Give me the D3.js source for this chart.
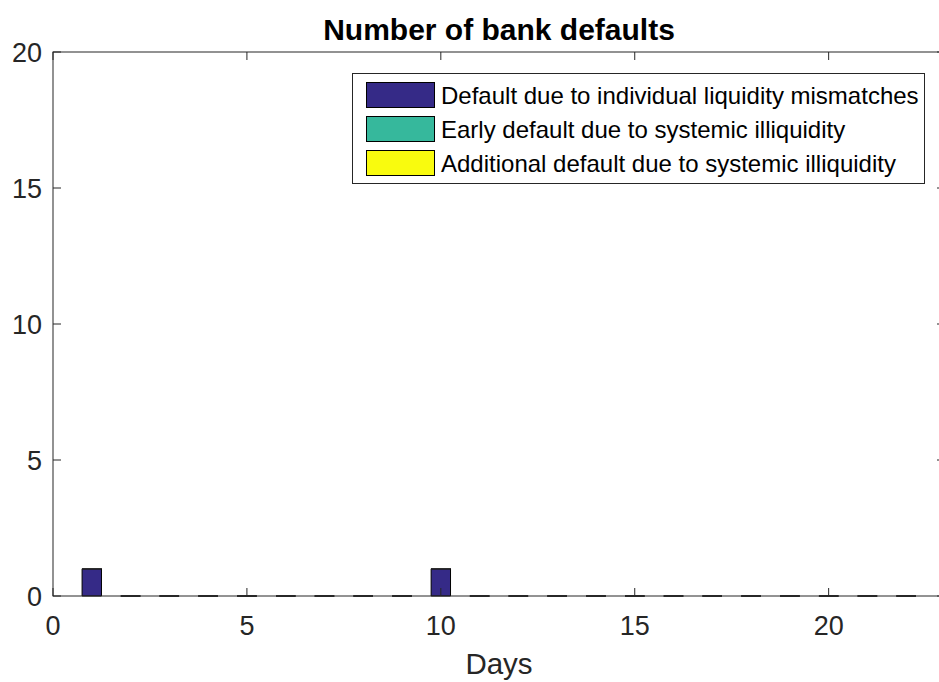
<!DOCTYPE html>
<html>
<head>
<meta charset="utf-8">
<script src="https://cdn.jsdelivr.net/npm/d3@7"></script>
<style>
  html, body { margin: 0; padding: 0; background: #fff; }
  svg { display: block; font-family: "Liberation Sans", Arial, Helvetica, sans-serif; }
</style>
</head>
<body>
<svg id="chart" width="939" height="682"></svg>
<script>
// Daily bank default counts, split by cause (stacked)
const days = d3.range(1, 23);
const individualDefaults = [1, 0, 0, 0, 0, 0, 0, 0, 0, 1, 0, 0, 0, 0, 0, 0, 0, 0, 0, 0, 0, 0];
const earlySystemicDefaults = [0, 0, 0, 0, 0, 0, 0, 0, 0, 0, 0, 0, 0, 0, 0, 0, 0, 0, 0, 0, 0, 0];
const additionalSystemicDefaults = [0, 0, 0, 0, 0, 0, 0, 0, 0, 0, 0, 0, 0, 0, 0, 0, 0, 0, 0, 0, 0, 0];
const seriesNames = [
  "Default due to individual liquidity mismatches",
  "Early default due to systemic illiquidity",
  "Additional default due to systemic illiquidity"
];
const seriesColors = ["#352a87", "#36b89c", "#f9fb0e"];
const xTicks = [0, 5, 10, 15, 20];
const yTicks = [0, 5, 10, 15, 20];

const svg = d3.select("#chart");
const margin = { left: 53, top: 52, right: 945, bottom: 596 };
const axisColor = "#262626";

const x = d3.scaleLinear().domain([0, 23]).range([margin.left, margin.right]);
const y = d3.scaleLinear().domain([0, 20]).range([margin.bottom, margin.top]);

// Stack the three series per day
const rows = days.map((d, i) => ({
  day: d,
  s0: individualDefaults[i],
  s1: earlySystemicDefaults[i],
  s2: additionalSystemicDefaults[i]
}));
const stack = d3.stack().keys(["s0", "s1", "s2"])(rows);

const barWidth = 0.5;
const gBars = svg.append("g");
stack.forEach((layer, k) => {
  gBars.selectAll(null)
    .data(layer)
    .enter()
    .append("path")
    .attr("d", d => {
      const x0 = x(d.data.day - barWidth / 2), x1 = x(d.data.day + barWidth / 2);
      const y0 = y(d[0]), y1 = y(d[1]);
      return `M${x0},${y0}H${x1}V${y1}H${x0}Z`;
    })
    .attr("fill", seriesColors[k])
    .attr("stroke", k === 2 ? "#333" : "#000")
    .attr("stroke-width", 1);
});

// Axes box with inward ticks on all sides
const tickLen = 8;
const gAxes = svg.append("g").attr("stroke", axisColor).attr("stroke-width", 1).attr("fill", "none");
gAxes.append("rect")
  .attr("x", margin.left).attr("y", margin.top)
  .attr("width", margin.right - margin.left).attr("height", margin.bottom - margin.top);
xTicks.forEach(t => {
  gAxes.append("line").attr("x1", x(t)).attr("x2", x(t)).attr("y1", margin.bottom).attr("y2", margin.bottom - tickLen);
  gAxes.append("line").attr("x1", x(t)).attr("x2", x(t)).attr("y1", margin.top).attr("y2", margin.top + tickLen);
});
yTicks.forEach(t => {
  gAxes.append("line").attr("x1", margin.left).attr("x2", margin.left + tickLen).attr("y1", y(t)).attr("y2", y(t));
  gAxes.append("line").attr("x1", margin.right - tickLen).attr("x2", margin.right).attr("y1", y(t)).attr("y2", y(t));
});

// Tick labels
svg.append("g").selectAll("text").data(xTicks).enter().append("text")
  .attr("x", d => x(d)).attr("y", 635)
  .attr("text-anchor", "middle")
  .attr("font-size", 27).attr("fill", axisColor)
  .text(d => d);
svg.append("g").selectAll("text").data(yTicks).enter().append("text")
  .attr("x", 42).attr("y", d => y(d) + 10)
  .attr("text-anchor", "end")
  .attr("font-size", 27).attr("fill", axisColor)
  .text(d => d);

// Axis label and title
svg.append("text")
  .attr("x", (margin.left + margin.right) / 2).attr("y", 674)
  .attr("text-anchor", "middle").attr("font-size", 29.5).attr("fill", axisColor)
  .text("Days");
svg.append("text")
  .attr("x", (margin.left + margin.right) / 2).attr("y", 40)
  .attr("text-anchor", "middle").attr("font-size", 30).attr("font-weight", "bold").attr("fill", "#000")
  .text("Number of bank defaults");

// Legend
const legend = svg.append("g");
legend.append("rect")
  .attr("x", 352.5).attr("y", 73.5).attr("width", 572).attr("height", 110)
  .attr("fill", "#fff").attr("stroke", axisColor).attr("stroke-width", 1);
seriesNames.forEach((name, i) => {
  const cy = 95 + i * 34;
  legend.append("rect")
    .attr("x", 366.5).attr("y", cy - 12.5).attr("width", 68).attr("height", 25)
    .attr("fill", seriesColors[i]).attr("stroke", "#000").attr("stroke-width", 1);
  legend.append("text")
    .attr("x", 441).attr("y", cy + 8.5)
    .attr("font-size", 24).attr("fill", "#000")
    .text(name);
});
</script>
</body>
</html>
